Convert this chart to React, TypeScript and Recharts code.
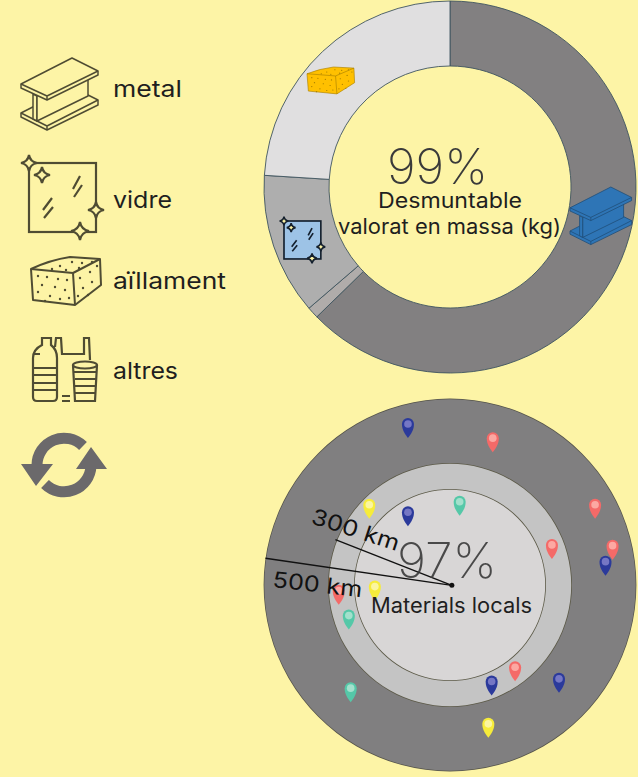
import React from 'react';
import { PieChart, Pie, Cell, ScatterChart, Scatter, XAxis, YAxis } from 'recharts';

// share of mass (%) per material, clockwise from 12 o'clock
const materialNames = ['metal', 'altres', 'vidre', 'aïllament'];
const materialShares = [62.7, 1.0, 12.3, 24.0];
const materialColors = ['#828081', '#b0acaa', '#aeaeae', '#e0dfe0'];
const legendLabels = ['metal', 'vidre', 'aïllament', 'altres'];

// distance rings of the lower chart
const ringNames = ['500 km', '300 km', 'local'];
const ringValues = [1, 1, 1];

// suppliers as km east / km north of the site
const redPins = [
  { x: 115, y: 384 }, { x: 390, y: 205 }, { x: 437, y: 95 },
  { x: 274, y: 97 }, { x: 175, y: -232 }, { x: -299, y: -26 }
];
const bluePins = [
  { x: -113, y: 422 }, { x: -113, y: 185 }, { x: 112, y: -270 },
  { x: 293, y: -263 }, { x: 418, y: 52 }
];
const yellowPins = [{ x: -217, y: 205 }, { x: -202, y: -15 }, { x: 103, y: -384 }];
const tealPins = [{ x: 26, y: 213 }, { x: -272, y: -93 }, { x: -267, y: -288 }];
const site = [{ x: 5, y: -1 }];
const reach500 = [{ x: 5, y: -1 }, { x: -496, y: 72 }];
const reach300 = [{ x: 5, y: -1 }, { x: -308, y: 122 }];

const FONT = 'Inter, "Open Sans", sans-serif';
const PAGE = '#fdf4a6';
const ICON = '#4f4c33';

const makePin = (body: string, head: string) => (props: any) => {
  const { cx, cy } = props;
  if (cx == null) return null;
  return (
    <g transform={`translate(${cx},${cy})`}>
      <path d="M0,10 C-3,6 -6,2 -6,-4 A6,6 0 0 1 6,-4 C6,2 3,6 0,10 Z" fill={body} />
      <circle cx={0} cy={-4} r={3.8} fill={head} />
    </g>
  );
};

const Beam = ({ fill, stroke, width }: { fill: string; stroke: string; width: number }) => (
  <g fill={fill} stroke={stroke} strokeWidth={width} strokeLinejoin="round">
    {/* lower flange, web, upper flange, back to front */}
    <path d="M21,113 L72,87 L98,100 L98,105 L47,130 L21,117 Z" />
    <path d="M21,113 L47,126 L98,100 M47,126 L47,130" fill="none" />
    <path d="M33,94 L37,96 L37,121 L33,119 Z" />
    <path d="M37,96 L88,72 L88,96 L37,121 Z" />
    <path d="M21,84 L72,58 L98,71 L98,75 L47,100 L21,88 Z" />
    <path d="M21,84 L47,96 L98,71 M47,96 L47,100" fill="none" />
  </g>
);

const Sparkle = ({ x, y, r }: { x: number; y: number; r: number }) => (
  <path
    d={`M${x},${y - r} Q${x + r * 0.15},${y - r * 0.15} ${x + r},${y} Q${x + r * 0.15},${y + r * 0.15} ${x},${y + r} Q${x - r * 0.15},${y + r * 0.15} ${x - r},${y} Q${x - r * 0.15},${y - r * 0.15} ${x},${y - r} Z`}
    fill={PAGE}
  />
);

const Glass = ({ fill, stroke, width }: { fill: string; stroke: string; width: number }) => (
  <g stroke={stroke} strokeWidth={width} fill="none">
    <rect x={29} y={163} width={67} height={69} fill={fill} />
    <path d="M80,176 L73,189 M82,185 L74,197 M52,198 L43,210 M53,207 L44,218" />
    <Sparkle x={29} y={163} r={8} />
    <Sparkle x={42} y={175} r={8} />
    <Sparkle x={96} y={210} r={8} />
    <Sparkle x={80} y={231} r={9} />
  </g>
);

const brickDots = [
  [38, 276], [47, 277], [58, 279], [67, 280], [42, 285], [55, 287], [65, 290], [38, 292], [50, 296],
  [60, 299], [69, 298], [45, 301], [80, 278], [90, 272], [97, 266], [83, 288], [92, 282], [78, 296],
  [88, 295], [60, 266], [72, 262], [82, 263], [92, 262], [52, 269], [66, 270], [79, 268]
];

const Brick = ({ fill, stroke, width, dot }: { fill: string; stroke: string; width: number; dot: number }) => (
  <g stroke={stroke} strokeWidth={width} strokeLinejoin="round" fill={fill}>
    <path d="M31,269 Q50,260 70,257 L100,259 L101,285 L75,305 L33,300 Z" />
    <path d="M31,269 L73,273 L75,305 M73,273 L100,259" fill="none" />
    <g stroke="none" fill={stroke}>
      {brickDots.map(([x, y], i) => <circle key={i} cx={x} cy={y} r={dot} />)}
    </g>
  </g>
);

const Bottles = () => (
  <g fill="none" stroke={ICON} strokeWidth={2.2}>
    <path d="M42,338 L51,338 L51,345 C55,348 57,352 57,358 L57,397 Q57,401 53,401 L37,401 Q33,401 33,397 L33,358 C33,352 36,348 42,345 Z" />
    <path d="M34,354 L40,354 M34,368 L56,368 M34,375 L56,375 M34,383 L56,383 M34,390 L56,390" />
    <path d="M55,347 L56,338 L61,338 L62,354 L84,354 L84,338 L89,338 L90,360" />
    <ellipse cx={85} cy={365} rx={12} ry={3.5} />
    <path d="M73,365 L75,401 L95,401 L97,365 M74,372 L96,372 M75,379 L96,379 M75,386 L95,386 M75,393 L95,393" />
    <path d="M62,396 L70,396 M62,401 L70,401" />
  </g>
);

const Recycle = () => (
  <g>
    <path d="M83,446 A27,27 0 0 0 37,465" fill="none" stroke="#6b696b" strokeWidth={11} />
    <path d="M45,484 A27,27 0 0 0 91,466" fill="none" stroke="#6b696b" strokeWidth={11} />
    <path d="M21,464 L53,464 L36,486 Z M76,469 L107,469 L91,447 Z" fill="#6b696b" />
  </g>
);

const txt = { fontFamily: FONT, fill: '#1f1f1f' };

const App = () => {
  const donutData = materialNames.map((name, i) => ({ name, value: materialShares[i] }));
  const ring = (i: number) => [{ name: ringNames[i], value: ringValues[i] }];
  const donut = { startAngle: 90, endAngle: -270, isAnimationActive: false, dataKey: 'value', nameKey: 'name' };

  return (
    <div style={{ position: 'absolute', left: 0, top: 0, width: 638, height: 777, background: PAGE, overflow: 'hidden' }}>
      <div style={{ position: 'absolute', left: 0, top: 0 }}>
        <PieChart width={638} height={777} margin={{ top: 0, right: 0, bottom: 0, left: 0 }}>
          <Pie {...donut} data={donutData} cx={450} cy={187} innerRadius={121} outerRadius={186} stroke="#3f5560" strokeWidth={0.9}>
            {donutData.map((d, i) => <Cell key={d.name} fill={materialColors[i]} />)}
          </Pie>
          <Pie {...donut} data={ring(0)} cx={450} cy={585} innerRadius={0} outerRadius={186.4} fill="#55544a" stroke="none" />
          <Pie {...donut} data={ring(0)} cx={450} cy={585} innerRadius={0} outerRadius={185.7} fill="#807f80" stroke="none" />
          <Pie {...donut} data={ring(1)} cx={450} cy={585} innerRadius={0} outerRadius={122} fill="#5c5a48" stroke="none" />
          <Pie {...donut} data={ring(1)} cx={450} cy={585} innerRadius={0} outerRadius={121.2} fill="#c4c4c4" stroke="none" />
          <Pie {...donut} data={ring(2)} cx={450} cy={585} innerRadius={0} outerRadius={96} fill="#5c5a48" stroke="none" />
          <Pie {...donut} data={ring(2)} cx={450} cy={585} innerRadius={0} outerRadius={95.2} fill="#d8d6d6" stroke="none" />
        </PieChart>
      </div>

      <div style={{ position: 'absolute', left: 264, top: 399 }}>
        <ScatterChart width={372} height={372} margin={{ top: 0, right: 0, bottom: 0, left: 0 }}>
          <XAxis type="number" dataKey="x" domain={[-500, 500]} hide />
          <YAxis type="number" dataKey="y" domain={[-500, 500]} hide />
          <Scatter data={redPins} shape={makePin('#f46a68', '#fca8a2')} isAnimationActive={false} />
          <Scatter data={bluePins} shape={makePin('#2b3a9b', '#7577c4')} isAnimationActive={false} />
          <Scatter data={yellowPins} shape={makePin('#f6ec3a', '#fbf6a0')} isAnimationActive={false} />
          <Scatter data={tealPins} shape={makePin('#55c8a8', '#a3e0cc')} isAnimationActive={false} />
          <Scatter data={reach500} line={{ stroke: '#111', strokeWidth: 1.4 }} shape={() => <g />} isAnimationActive={false} />
          <Scatter data={reach300} line={{ stroke: '#111', strokeWidth: 1.4 }} shape={() => <g />} isAnimationActive={false} />
          <Scatter data={site} shape={(p: any) => <circle cx={p.cx} cy={p.cy} r={2.5} fill="#111" />} isAnimationActive={false} />
        </ScatterChart>
      </div>

      <svg width={638} height={777} style={{ position: 'absolute', left: 0, top: 0 }}>
        {/* legend icons */}
        <Beam fill={PAGE} stroke={ICON} width={1.5} />
        <Glass fill="none" stroke={ICON} width={2.2} />
        <Brick fill="none" stroke={ICON} width={2} dot={1.2} />
        <Bottles />
        <Recycle />

        {/* icons on the donut */}
        <g transform="translate(570,187) scale(0.8) translate(-21,-58)">
          <Beam fill="#2e75b6" stroke="#1f4e79" width={1} />
        </g>
        <g transform="translate(284,221) scale(0.55) translate(-29,-163)">
          <Glass fill="#9dc3e6" stroke="#14202e" width={3} />
        </g>
        <g transform="translate(307,67) scale(0.68,0.56) translate(-31,-257)">
          <Brick fill="#ffc000" stroke="#a87f00" width={1} dot={1} />
        </g>

        {legendLabels.map((label, i) => (
          <text key={label} x={113} y={[97, 208, 289, 379][i]} fontSize={23} textLength={[69, 59, 113, 65][i]} lengthAdjust="spacingAndGlyphs" {...txt}>
            {label}
          </text>
        ))}

        <text x={387} y={184} fontSize={49} fontWeight={200} textLength={101} lengthAdjust="spacingAndGlyphs" {...txt} fill="#3a3a3a">99%</text>
        <text x={378} y={208} fontSize={21} textLength={144} lengthAdjust="spacingAndGlyphs" {...txt}>Desmuntable</text>
        <text x={338} y={234} fontSize={21} textLength={223} lengthAdjust="spacingAndGlyphs" {...txt}>valorat en massa (kg)</text>

        <text x={397} y={578} fontSize={49} fontWeight={200} textLength={100} lengthAdjust="spacingAndGlyphs" {...txt} fill="#3a3a3a" fillOpacity={0.9}>97%</text>
        <text x={371} y={613} fontSize={21} textLength={161} lengthAdjust="spacingAndGlyphs" {...txt}>Materials locals</text>
        <text transform="translate(310,523) rotate(18)" fontSize={22} textLength={91} lengthAdjust="spacingAndGlyphs" {...txt} fill="#111">300 km</text>
        <text transform="translate(272,587) rotate(6.5)" fontSize={22} textLength={90} lengthAdjust="spacingAndGlyphs" {...txt} fill="#111">500 km</text>
      </svg>
    </div>
  );
};

export default App;
